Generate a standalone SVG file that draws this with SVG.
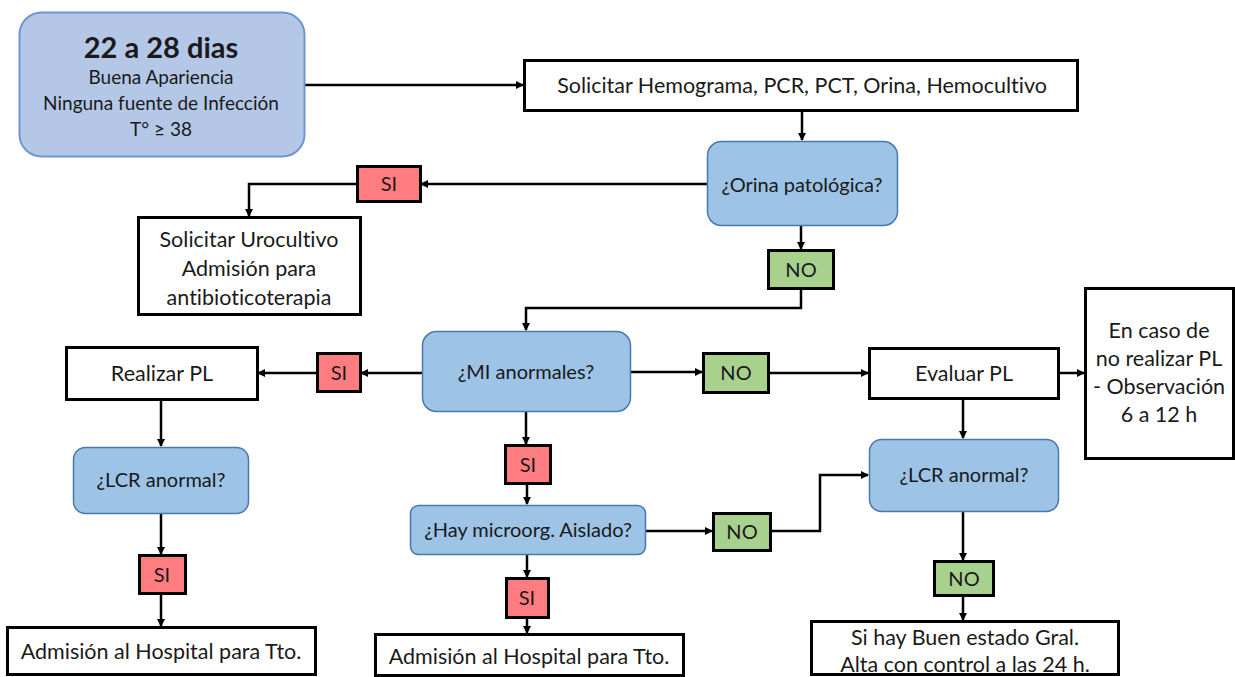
<svg xmlns="http://www.w3.org/2000/svg" width="1235" height="677" viewBox="0 0 1235 677">
  <defs>
    <marker id="arr" markerWidth="8" markerHeight="8" refX="7" refY="4" orient="auto" markerUnits="userSpaceOnUse">
      <path d="M0,0 L8,4 L0,8 Z" fill="#000"/>
    </marker>
    <style>
      text { font-family: Lato, "Open Sans", "Liberation Sans", sans-serif; fill: #1a1a1a; text-anchor: middle; font-variant-ligatures: none; font-feature-settings: "liga" 0, "dlig" 0; }
      .box { fill: #fff; stroke: #000; stroke-width: 3; }
      .q { fill: #9dc3e6; stroke: #4a78ad; stroke-width: 1.5; }
      .si { fill: #ff7c80; stroke: #000; stroke-width: 3; }
      .no { fill: #a9d18e; stroke: #000; stroke-width: 3; }
      .t21 { font-size: 21.5px; }
      .t20 { font-size: 20px; }
      .t19 { font-size: 19px; }
      .conn path { fill: none; stroke: #000; stroke-width: 2.5; marker-end: url(#arr); }
    </style>
  </defs>
  <rect width="1235" height="677" fill="#fff"/>

  <!-- connectors -->
  <g class="conn">
    <path d="M304,85 H523"/>
    <path d="M802,110 V140"/>
    <path d="M707,184 H421"/>
    <path d="M357,184 H249 V216"/>
    <path d="M801,226 V249"/>
    <path d="M801,288 V308 H526 V330"/>
    <path d="M422,373 H361"/>
    <path d="M317,373 H258"/>
    <path d="M161,399 V446"/>
    <path d="M161,513 V554"/>
    <path d="M161,593 V626"/>
    <path d="M631,372 H702"/>
    <path d="M768,373 H868"/>
    <path d="M1058,373 H1084"/>
    <path d="M963,398 V438"/>
    <path d="M526,411 V444"/>
    <path d="M527,483 V504"/>
    <path d="M645,531 H712"/>
    <path d="M770,531 H820 V475 H868"/>
    <path d="M963,511 V560"/>
    <path d="M963,595 V620"/>
    <path d="M527,554 V577"/>
    <path d="M527,617 V633"/>
  </g>

  <g id="inicio">
    <rect x="19.5" y="12.5" width="285" height="144" rx="22" fill="#b4c7e7" stroke="#6f95d2" stroke-width="2"/>
    <text x="161" y="58" style="font-size:29px;font-weight:bold">22 a 28 dias</text>
    <text x="161" y="84" class="t19">Buena Apariencia</text>
    <text x="161" y="110" class="t19">Ninguna fuente de Infección</text>
    <text x="161" y="136" class="t19">T° ≥ 38</text>
  </g>

  <g id="solicitar">
    <rect class="box" x="524.5" y="60.5" width="553" height="50"/>
    <text x="802" y="93" class="t21">Solicitar Hemograma, PCR, PCT, Orina, Hemocultivo</text>
  </g>

  <g id="orina">
    <rect class="q" x="707.5" y="141.5" width="190" height="84" rx="14"/>
    <text x="802" y="192" class="t20">¿Orina patológica?</text>
  </g>

  <g id="si-orina">
    <rect class="si" x="357.5" y="166.5" width="63" height="35"/>
    <text x="389" y="191" class="t20">SI</text>
  </g>

  <g id="urocultivo">
    <rect class="box" x="138.5" y="217.5" width="222" height="97"/>
    <text x="249" y="247" class="t21">Solicitar Urocultivo</text>
    <text x="249" y="276" class="t21">Admisión para</text>
    <text x="249" y="305" class="t21">antibioticoterapia</text>
  </g>

  <g id="no-orina">
    <rect class="no" x="768.5" y="250.5" width="65" height="38"/>
    <text x="801" y="277" class="t20">NO</text>
  </g>

  <g id="mi">
    <rect class="q" x="422.5" y="331.5" width="208" height="80" rx="14"/>
    <text x="526" y="379" class="t20">¿MI anormales?</text>
  </g>

  <g id="si-mi-izq">
    <rect class="si" x="317.5" y="353.5" width="43" height="38"/>
    <text x="339" y="380" class="t20">SI</text>
  </g>

  <g id="realizar-pl">
    <rect class="box" x="66.5" y="347.5" width="191" height="52"/>
    <text x="162" y="381" class="t21">Realizar PL</text>
  </g>

  <g id="lcr-izq">
    <rect class="q" x="73.5" y="447.5" width="175" height="66" rx="12"/>
    <text x="161" y="487" class="t20">¿LCR anormal?</text>
  </g>

  <g id="si-lcr-izq">
    <rect class="si" x="139.5" y="555.5" width="46" height="38"/>
    <text x="162" y="582" class="t20">SI</text>
  </g>

  <g id="admision-izq">
    <rect class="box" x="7.5" y="627.5" width="308" height="47"/>
    <text x="161" y="659" class="t21">Admisión al Hospital para Tto.</text>
  </g>

  <g id="no-mi">
    <rect class="no" x="703.5" y="353.5" width="65" height="39"/>
    <text x="736" y="380" class="t20">NO</text>
  </g>

  <g id="evaluar-pl">
    <rect class="box" x="869.5" y="348.5" width="189" height="50"/>
    <text x="964" y="381" class="t21">Evaluar PL</text>
  </g>

  <g id="observacion">
    <rect class="box" x="1085.5" y="288.5" width="148" height="170"/>
    <text x="1159" y="338" class="t21">En caso de</text>
    <text x="1159" y="366" class="t21">no realizar PL</text>
    <text x="1159" y="394" class="t21">- Observación</text>
    <text x="1159" y="422" class="t21">6 a 12 h</text>
  </g>

  <g id="lcr-der">
    <rect class="q" x="869.5" y="439.5" width="189" height="72" rx="12"/>
    <text x="964" y="482" class="t20">¿LCR anormal?</text>
  </g>

  <g id="no-lcr-der">
    <rect class="no" x="934.5" y="561.5" width="59" height="34"/>
    <text x="964" y="586" class="t20">NO</text>
  </g>

  <g id="alta">
    <rect class="box" x="811.5" y="621.5" width="307" height="53"/>
    <text x="965" y="645" class="t21">Si hay Buen estado Gral.</text>
    <text x="965" y="672" class="t21">Alta con control a las 24 h.</text>
  </g>

  <g id="si-mi-abajo">
    <rect class="si" x="505.5" y="445.5" width="45" height="38"/>
    <text x="528" y="472" class="t20">SI</text>
  </g>

  <g id="microorg">
    <rect class="q" x="410.5" y="505.5" width="235" height="49" rx="8"/>
    <text x="528" y="537" class="t20">¿Hay microorg. Aislado?</text>
  </g>

  <g id="no-microorg">
    <rect class="no" x="713.5" y="513.5" width="57" height="37"/>
    <text x="742" y="539" class="t20">NO</text>
  </g>

  <g id="si-microorg">
    <rect class="si" x="506.5" y="578.5" width="42" height="39"/>
    <text x="527" y="605" class="t20">SI</text>
  </g>

  <g id="admision-centro">
    <rect class="box" x="375.5" y="634.5" width="308" height="41"/>
    <text x="529" y="664" class="t21">Admisión al Hospital para Tto.</text>
  </g>
</svg>
